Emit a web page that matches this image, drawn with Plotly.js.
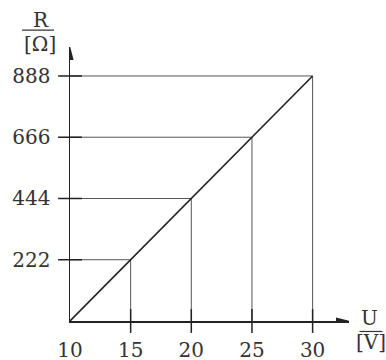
<!DOCTYPE html>
<html>
<head>
<meta charset="utf-8">
<script src="https://cdn.plot.ly/plotly-3.0.1.min.js"></script>
<style>html,body{margin:0;padding:0;background:#fff;}#chart{width:386px;height:360px;}#status{position:absolute;left:0;top:0;width:1px;height:1px;overflow:hidden}</style>
</head>
<body>
<div id="chart"></div>
<div id="status"></div>
<script>
// Data
var voltage = [10, 15, 20, 25, 30];          // U [V]
var resistance = [0, 222, 444, 666, 888];     // R [Ω]
var xTickLabels = ['10', '15', '20', '25', '30'];
var yTickVals = [222, 444, 666, 888];
var yTickLabels = ['222', '444', '666', '888'];

var textColor = '#333';
var fontFam = 'DejaVu Serif, serif';
var xMin = 10, xMax = 33, yMin = 0, yMax = 993;
var W = 386, H = 360, mL = 70, mR = 36.5, mT = 47, mB = 38.5;
var pw = W - mL - mR, ph = H - mT - mB;
var dx = (xMax - xMin) / pw, dy = (yMax - yMin) / ph;
function pxX(p) { return (p - mL) / pw; }          // page pixel -> paper x
function pxY(p) { return (H - mB - p) / ph; }      // page pixel -> paper y

var traces = [];
// drop lines from each marked point to both axes
for (var i = 1; i < voltage.length; i++) {
  traces.push({x: [xMin, voltage[i], voltage[i]], y: [resistance[i], resistance[i], yMin],
    mode: 'lines', line: {color: '#555', width: 1}, hoverinfo: 'skip', showlegend: false, cliponaxis: false});
}
// characteristic line
traces.push({x: voltage, y: resistance, mode: 'lines', line: {color: '#222', width: 1.6}, showlegend: false, cliponaxis: false});
// crossing tick marks on the x axis
traces.push({x: voltage.slice(1), y: voltage.slice(1).map(function(){return yMin;}),
  mode: 'markers', marker: {symbol: 'line-ns-open', size: 17, color: '#222', line: {width: 1.5, color: '#222'}},
  showlegend: false, hoverinfo: 'skip', cliponaxis: false});
// crossing tick marks on the y axis
traces.push({x: yTickVals.map(function(){return xMin;}), y: yTickVals,
  mode: 'markers', marker: {symbol: 'line-ew-open', size: 17, color: '#222', line: {width: 1.5, color: '#222'}},
  showlegend: false, hoverinfo: 'skip', cliponaxis: false});

var layout = {
  width: W, height: H, margin: {l: mL, r: mR, t: mT, b: mB},
  font: {family: fontFam, color: textColor, size: 20},
  xaxis: {range: [xMin, xMax], showgrid: false, zeroline: false, showline: true, linecolor: '#222', linewidth: 1.5,
    tickmode: 'array', tickvals: voltage, ticktext: xTickLabels, ticks: 'outside', ticklen: 10, tickcolor: 'rgba(0,0,0,0)',
    tickfont: {family: fontFam, size: 20, color: textColor}},
  yaxis: {range: [yMin, yMax], showgrid: false, zeroline: false, showline: true, linecolor: '#222', linewidth: 1.5,
    tickmode: 'array', tickvals: yTickVals, ticktext: yTickLabels, ticks: 'outside', ticklen: 14, tickcolor: 'rgba(0,0,0,0)',
    tickfont: {family: fontFam, size: 20, color: textColor}},
  shapes: [
    // axis arrowheads
    {type: 'path', xref: 'x', yref: 'y', layer: 'above',
     path: 'M' + (xMax + 1 * dx) + ',' + yMin + ' L' + (xMax - 13 * dx) + ',' + (yMin + 3.6 * dy) +
           ' L' + (xMax - 13 * dx) + ',' + (yMin - 3.6 * dy) + ' Z', fillcolor: '#222', line: {width: 0}},
    {type: 'path', xref: 'x', yref: 'y', layer: 'above',
     path: 'M' + xMin + ',' + (yMax + 1 * dy) + ' L' + (xMin + 3.6 * dx) + ',' + (yMax - 13 * dy) +
           ' L' + (xMin - 3.6 * dx) + ',' + (yMax - 13 * dy) + ' Z', fillcolor: '#222', line: {width: 0}},
    // fraction bars of the axis titles
    {type: 'line', xref: 'paper', yref: 'paper',
     x0: pxX(22), x1: pxX(54), y0: pxY(30), y1: pxY(30), line: {color: '#333', width: 1.2}},
    {type: 'line', xref: 'paper', yref: 'paper',
     x0: pxX(360), x1: pxX(383), y0: pxY(332), y1: pxY(332), line: {color: '#333', width: 1.2}}
  ],
  // auto anchoring: left/top for the R title, right/bottom for the U title
  annotations: [
    {text: 'R', xref: 'paper', yref: 'paper', x: pxX(31), y: pxY(6), showarrow: false, font: {size: 20}},
    {text: '[Ω]', xref: 'paper', yref: 'paper', x: pxX(22), y: pxY(30), showarrow: false, font: {size: 20}},
    {text: 'U', xref: 'paper', yref: 'paper', x: pxX(381), y: pxY(333), showarrow: false, font: {size: 20}},
    {text: '[V]', xref: 'paper', yref: 'paper', x: pxX(389), y: pxY(357), showarrow: false, font: {size: 20}}
  ]
};

Plotly.newPlot('chart', traces, layout, {displayModeBar: false, staticPlot: true}).then(function(gd){
  document.getElementById('status').setAttribute('data-points', gd.querySelectorAll('.point').length);
});
</script>
</body>
</html>
